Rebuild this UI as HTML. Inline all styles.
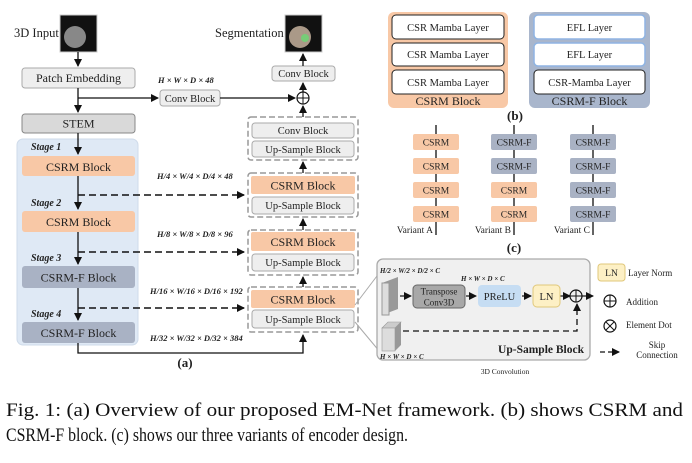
<!DOCTYPE html>
<html><head><meta charset="utf-8"><style>
html,body{margin:0;padding:0;background:#fff;}
svg{display:block;}
text{font-family:"Liberation Serif",serif;}
</style></head><body>
<svg width="692" height="463" viewBox="0 0 692 463" xmlns="http://www.w3.org/2000/svg">
<defs>
<marker id="ah" markerWidth="8" markerHeight="8" refX="7" refY="4" orient="auto" markerUnits="userSpaceOnUse"><path d="M0,0 L8,4 L0,8 Z" fill="#111"/></marker>
</defs>
<g font-size="12" fill="#222">
<text x="14" y="37" font-size="12.5">3D Input</text>
<rect x="60" y="15" width="37" height="37" fill="#111" stroke="#ccc"/>
<circle cx="75" cy="37" r="11" fill="#888"/>
<text x="215" y="37" font-size="12.5">Segmentation</text>
<rect x="285" y="15" width="37" height="37" fill="#111" stroke="#ccc"/>
<circle cx="300" cy="37" r="11" fill="#a98"/>
<circle cx="305" cy="38" r="4" fill="#7c7"/>

<line x1="78" y1="52" x2="78" y2="66" stroke="#111" stroke-width="1.3" marker-end="url(#ah)"/>
<rect x="22" y="68" width="113" height="20" rx="3" fill="#eee" stroke="#aaa"/>
<text x="78.5" y="82" text-anchor="middle" font-size="12">Patch Embedding</text>
<line x1="78" y1="88" x2="78" y2="112" stroke="#111" stroke-width="1.3" marker-end="url(#ah)"/>
<line x1="78" y1="98" x2="158" y2="98" stroke="#111" stroke-width="1.3" marker-end="url(#ah)"/>
<rect x="22" y="114" width="113" height="19" rx="3" fill="#d9d9d9" stroke="#888"/>
<text x="78.5" y="127.5" text-anchor="middle" font-size="12">STEM</text>

<rect x="17" y="139" width="121" height="206" rx="6" fill="#dfe9f5" stroke="#cfdbea"/>
<line x1="78" y1="133" x2="78" y2="154" stroke="#111" stroke-width="1.3" marker-end="url(#ah)"/>
<line x1="78" y1="176" x2="78" y2="209" stroke="#111" stroke-width="1.3" marker-end="url(#ah)"/>
<line x1="78" y1="232" x2="78" y2="264" stroke="#111" stroke-width="1.3" marker-end="url(#ah)"/>
<line x1="78" y1="288" x2="78" y2="320" stroke="#111" stroke-width="1.3" marker-end="url(#ah)"/>
<g font-style="italic" font-weight="bold" font-size="10">
<text x="31" y="150">Stage 1</text><text x="31" y="206">Stage 2</text><text x="31" y="261">Stage 3</text><text x="31" y="317">Stage 4</text>
</g>
<rect x="22" y="156" width="113" height="20" rx="3" fill="#f8c8a6"/>
<text x="78.5" y="171" text-anchor="middle">CSRM Block</text>
<rect x="22" y="211" width="113" height="21" rx="3" fill="#f8c8a6"/>
<text x="78.5" y="226" text-anchor="middle">CSRM Block</text>
<rect x="22" y="266" width="113" height="22" rx="3" fill="#a9b2c4"/>
<text x="78.5" y="281.5" text-anchor="middle">CSRM-F Block</text>
<rect x="22" y="322" width="113" height="21" rx="3" fill="#a9b2c4"/>
<text x="78.5" y="337" text-anchor="middle">CSRM-F Block</text>

<g stroke="#111" stroke-width="1.5" stroke-dasharray="7,4" fill="none">
<line x1="78" y1="195" x2="244" y2="195" marker-end="url(#ah)"/>
<line x1="78" y1="252" x2="244" y2="252" marker-end="url(#ah)"/>
<line x1="78" y1="308" x2="244" y2="308" marker-end="url(#ah)"/>
</g>
<polyline points="78,343 78,353 303,353 303,335" fill="none" stroke="#111" stroke-width="1.3" marker-end="url(#ah)"/>
<text x="185" y="367" text-anchor="middle" font-weight="bold" font-size="13" font-family="Liberation Sans">(a)</text>

<g font-weight="bold" font-style="italic" font-size="8.5">
<text x="158" y="83">H × W × D × 48</text>
<text x="157" y="179">H/4 × W/4 × D/4 × 48</text>
<text x="157" y="237">H/8 × W/8 × D/8 × 96</text>
<text x="150" y="294">H/16 × W/16 × D/16 × 192</text>
<text x="150" y="341">H/32 × W/32 × D/32 × 384</text>
</g>

<rect x="160" y="90" width="60" height="16" rx="3" fill="#eee" stroke="#aaa"/>
<text x="190" y="102" text-anchor="middle" font-size="10.5">Conv Block</text>
<line x1="220" y1="98" x2="295" y2="98" stroke="#111" stroke-width="1.3" marker-end="url(#ah)"/>
<circle cx="303" cy="98" r="6" fill="#fff" stroke="#111" stroke-width="1.2"/>
<line x1="297" y1="98" x2="309" y2="98" stroke="#111"/><line x1="303" y1="92" x2="303" y2="104" stroke="#111"/>
<line x1="303" y1="117" x2="303" y2="106" stroke="#111" stroke-width="1.3" marker-end="url(#ah)"/>
<line x1="303" y1="92" x2="303" y2="83" stroke="#111" stroke-width="1.3" marker-end="url(#ah)"/>
<rect x="272" y="66" width="63" height="15" rx="3" fill="#eee" stroke="#aaa"/>
<text x="303.5" y="77" text-anchor="middle" font-size="10.5">Conv Block</text>
<line x1="303" y1="66" x2="303" y2="54" stroke="#111" stroke-width="1.3" marker-end="url(#ah)"/>

<g fill="none" stroke="#999" stroke-width="1.5" stroke-dasharray="6,3">
<rect x="248" y="117" width="110" height="43" rx="3"/>
<rect x="248" y="173" width="110" height="44" rx="3"/>
<rect x="248" y="230" width="110" height="45" rx="3"/>
<rect x="248" y="287" width="110" height="45" rx="3"/>
</g>
<g stroke="#111" stroke-width="1.3">
<line x1="303" y1="173" x2="303" y2="162" marker-end="url(#ah)"/>
<line x1="303" y1="230" x2="303" y2="219" marker-end="url(#ah)"/>
<line x1="303" y1="287" x2="303" y2="277" marker-end="url(#ah)"/>
</g>
<g font-size="10.5">
<rect x="252" y="123" width="102" height="15" rx="3" fill="#eee" stroke="#aaa"/><text x="303" y="134" text-anchor="middle">Conv Block</text>
<rect x="252" y="141" width="102" height="16" rx="3" fill="#eee" stroke="#aaa"/><text x="303" y="153" text-anchor="middle">Up-Sample Block</text>
<rect x="251" y="176" width="104" height="18" rx="2" fill="#f8c8a6"/><text x="303" y="189.5" text-anchor="middle" font-size="12">CSRM Block</text>
<rect x="252" y="197" width="102" height="17" rx="3" fill="#eee" stroke="#aaa"/><text x="303" y="209" text-anchor="middle">Up-Sample Block</text>
<rect x="251" y="232" width="104" height="19" rx="2" fill="#f8c8a6"/><text x="303" y="246" text-anchor="middle" font-size="12">CSRM Block</text>
<rect x="252" y="254" width="102" height="17" rx="3" fill="#eee" stroke="#aaa"/><text x="303" y="266" text-anchor="middle">Up-Sample Block</text>
<rect x="251" y="290" width="104" height="18" rx="2" fill="#f8c8a6"/><text x="303" y="303.5" text-anchor="middle" font-size="12">CSRM Block</text>
<rect x="252" y="310" width="102" height="18" rx="3" fill="#eee" stroke="#aaa"/><text x="303" y="323" text-anchor="middle">Up-Sample Block</text>
</g>
<line x1="355" y1="305" x2="380" y2="272" stroke="#aaa"/>
<line x1="355" y1="322" x2="380" y2="352" stroke="#aaa"/>

<rect x="388" y="12" width="120" height="96" rx="6" fill="#f8c8a6"/>
<g font-size="10.5">
<rect x="392" y="15" width="112" height="24" rx="4" fill="#fff" stroke="#222"/><text x="448" y="31" text-anchor="middle">CSR Mamba Layer</text>
<rect x="392" y="43" width="112" height="23" rx="4" fill="#fff" stroke="#222"/><text x="448" y="58" text-anchor="middle">CSR Mamba Layer</text>
<rect x="392" y="70" width="112" height="24" rx="4" fill="#fff" stroke="#222"/><text x="448" y="86" text-anchor="middle">CSR Mamba Layer</text>
</g>
<text x="448" y="105" text-anchor="middle" font-size="12">CSRM Block</text>
<rect x="529" y="12" width="121" height="96" rx="6" fill="#a9b6cc"/>
<g font-size="10.5">
<rect x="534" y="15" width="111" height="24" rx="4" fill="#fff" stroke="#8fb4e3" stroke-width="1.5"/><text x="589.5" y="31" text-anchor="middle">EFL Layer</text>
<rect x="534" y="43" width="111" height="23" rx="4" fill="#fff" stroke="#8fb4e3" stroke-width="1.5"/><text x="589.5" y="58" text-anchor="middle">EFL Layer</text>
<rect x="534" y="70" width="111" height="24" rx="4" fill="#fff" stroke="#222"/><text x="589.5" y="86" text-anchor="middle">CSR-Mamba Layer</text>
</g>
<text x="589.5" y="105" text-anchor="middle" font-size="12">CSRM-F Block</text>
<text x="515" y="120" text-anchor="middle" font-weight="bold" font-size="13" font-family="Liberation Sans">(b)</text>

<g stroke="#111" stroke-width="1.3">
<line x1="436" y1="125" x2="436" y2="235"/><line x1="514" y1="125" x2="514" y2="235"/><line x1="593" y1="125" x2="593" y2="235"/>
</g>
<g font-size="9.5" text-anchor="middle">
<rect x="413" y="134" width="46" height="16" rx="2" fill="#f8c8a6"/><text x="436" y="145.5">CSRM</text>
<rect x="413" y="158" width="46" height="16" rx="2" fill="#f8c8a6"/><text x="436" y="169.5">CSRM</text>
<rect x="413" y="182" width="46" height="16" rx="2" fill="#f8c8a6"/><text x="436" y="193.5">CSRM</text>
<rect x="413" y="206" width="46" height="16" rx="2" fill="#f8c8a6"/><text x="436" y="217.5">CSRM</text>
<rect x="491" y="134" width="46" height="16" rx="2" fill="#a9b2c4"/><text x="514" y="145.5">CSRM-F</text>
<rect x="491" y="158" width="46" height="16" rx="2" fill="#a9b2c4"/><text x="514" y="169.5">CSRM-F</text>
<rect x="491" y="182" width="46" height="16" rx="2" fill="#f8c8a6"/><text x="514" y="193.5">CSRM</text>
<rect x="491" y="206" width="46" height="16" rx="2" fill="#f8c8a6"/><text x="514" y="217.5">CSRM</text>
<rect x="570" y="134" width="46" height="16" rx="2" fill="#a9b2c4"/><text x="593" y="145.5">CSRM-F</text>
<rect x="570" y="158" width="46" height="16" rx="2" fill="#a9b2c4"/><text x="593" y="169.5">CSRM-F</text>
<rect x="570" y="182" width="46" height="16" rx="2" fill="#a9b2c4"/><text x="593" y="193.5">CSRM-F</text>
<rect x="570" y="206" width="46" height="16" rx="2" fill="#a9b2c4"/><text x="593" y="217.5">CSRM-F</text>
</g>
<g font-size="9.5" text-anchor="end">
<text x="433" y="233">Variant A</text><text x="511" y="233">Variant B</text><text x="590" y="233">Variant C</text>
</g>
<text x="514" y="252" text-anchor="middle" font-weight="bold" font-size="13" font-family="Liberation Sans">(c)</text>

<rect x="377" y="259" width="213" height="101" rx="6" fill="#f0f0f0" stroke="#aaa" stroke-width="1.3"/>
<text x="380" y="273" font-size="7" font-weight="bold" font-style="italic">H/2 × W/2 × D/2 × C</text>
<polygon points="382,283 398,277 398,309 382,315" fill="#999"/>
<rect x="382" y="283" width="7" height="32" fill="#ddd" stroke="#999"/>
<polygon points="382,328 388,322 401,322 395,328" fill="#ccc" stroke="#999" stroke-width="0.6"/>
<polygon points="395,328 401,322 401,345 395,351" fill="#999"/>
<rect x="382" y="328" width="13" height="23" fill="#ddd" stroke="#999" stroke-width="0.6"/>
<text x="380" y="359" font-size="7" font-weight="bold" font-style="italic">H × W × D × C</text>
<text x="461" y="281" font-size="7" font-weight="bold" font-style="italic">H × W × D × C</text>
<g stroke="#111" stroke-width="1.2">
<line x1="400" y1="296" x2="411" y2="296" marker-end="url(#ah)"/>
<line x1="466" y1="296" x2="476" y2="296" marker-end="url(#ah)"/>
<line x1="522" y1="296" x2="531" y2="296" marker-end="url(#ah)"/>
<line x1="560" y1="296" x2="570" y2="296" marker-end="url(#ah)"/>
<line x1="582" y1="296" x2="593" y2="296" marker-end="url(#ah)"/>
</g>
<rect x="413" y="285" width="52" height="23" rx="4" fill="#a8a8a8" stroke="#666"/>
<text x="439" y="294.5" text-anchor="middle" font-size="9">Transpose</text>
<text x="439" y="305.5" text-anchor="middle" font-size="9">Conv3D</text>
<rect x="478" y="285" width="43" height="22" rx="4" fill="#c6ddf3"/>
<text x="499.5" y="300" text-anchor="middle" font-size="10.5">PReLU</text>
<rect x="533" y="285" width="27" height="22" rx="4" fill="#fdf0c5" stroke="#e0c77a"/>
<text x="546.5" y="300" text-anchor="middle" font-size="10.5">LN</text>
<circle cx="576" cy="296" r="6" fill="none" stroke="#111" stroke-width="1.2"/>
<line x1="570" y1="296" x2="582" y2="296" stroke="#111"/><line x1="576" y1="290" x2="576" y2="302" stroke="#111"/>
<polyline points="403,331 577,331 577,304" fill="none" stroke="#111" stroke-width="1.3" stroke-dasharray="6,4" marker-end="url(#ah)"/>
<text x="584" y="353" text-anchor="end" font-weight="bold" font-size="11.5">Up-Sample Block</text>
<text x="505" y="374" text-anchor="middle" font-size="7.5" font-family="Liberation Sans">3D Convolution</text>

<rect x="598" y="264" width="27" height="17" rx="3" fill="#fdf0c5" stroke="#e0c77a"/>
<text x="611.5" y="276" text-anchor="middle" font-size="9.5">LN</text>
<text x="628" y="276" font-size="9">Layer Norm</text>
<circle cx="610" cy="301" r="6" fill="none" stroke="#111" stroke-width="1.2"/>
<line x1="604" y1="301" x2="616" y2="301" stroke="#111"/><line x1="610" y1="295" x2="610" y2="307" stroke="#111"/>
<text x="626" y="305" font-size="9">Addition</text>
<circle cx="610" cy="326" r="6" fill="none" stroke="#111" stroke-width="1.2"/>
<line x1="606" y1="322" x2="614" y2="330" stroke="#111"/><line x1="614" y1="322" x2="606" y2="330" stroke="#111"/>
<text x="626" y="328" font-size="9">Element Dot</text>
<line x1="600" y1="352" x2="619" y2="352" stroke="#111" stroke-width="1.3" stroke-dasharray="5,3" marker-end="url(#ah)"/>
<text x="657" y="348" text-anchor="middle" font-size="9">Skip</text>
<text x="657" y="358" text-anchor="middle" font-size="9">Connection</text>

<text x="6" y="416" font-size="19" fill="#111" textLength="677" lengthAdjust="spacingAndGlyphs">Fig. 1: (a) Overview of our proposed EM-Net framework. (b) shows CSRM and</text>
<text x="6" y="441" font-size="19" fill="#111" textLength="402" lengthAdjust="spacingAndGlyphs">CSRM-F block. (c) shows our three variants of encoder design.</text>
</g>
</svg>
</body></html>
